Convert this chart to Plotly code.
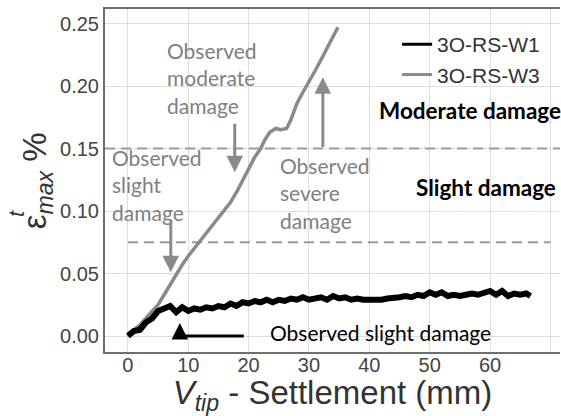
import plotly.graph_objects as go

# ---------------- data ----------------
w3_x = [0, 1, 2, 3, 4, 5, 6, 7, 8, 9, 10, 11, 12, 13, 14, 15, 16, 17, 18, 19, 20,
        21, 22, 22.7, 23.5, 24.5, 25.3, 26.3, 27, 28, 29, 30, 31, 32, 33, 34, 34.8]
w3_y = [0.002, 0.005, 0.009, 0.014, 0.019, 0.025, 0.033, 0.041, 0.050, 0.057, 0.064, 0.070,
        0.076, 0.082, 0.088, 0.094, 0.100, 0.107, 0.115, 0.124, 0.134, 0.143, 0.150,
        0.157, 0.163, 0.166, 0.165, 0.166, 0.173, 0.186, 0.195, 0.203, 0.212, 0.221, 0.230,
        0.239, 0.247]

w1_x = [0, 1, 2, 3, 4, 5, 6, 7, 8, 9, 10, 11, 12, 13, 14, 15, 16, 17, 18, 19, 20, 21, 22, 23,
        24, 25, 26, 27, 28, 29, 30, 31, 32, 33, 34, 35, 36, 37, 38, 39, 40, 41, 42, 43, 44, 45,
        46, 47, 48, 49, 50, 51, 52, 53, 54, 55, 56, 57, 58, 59, 60, 61, 62, 63, 64, 65, 66, 66.7]
w1_y = [0.000, 0.004, 0.005, 0.011, 0.014, 0.020, 0.022, 0.024, 0.019, 0.023, 0.020, 0.022,
        0.021, 0.023, 0.022, 0.024, 0.023, 0.026, 0.024, 0.027, 0.026, 0.028, 0.027, 0.029,
        0.027, 0.029, 0.028, 0.030, 0.029, 0.031, 0.029, 0.030, 0.031, 0.029, 0.032, 0.030,
        0.031, 0.029, 0.030, 0.029, 0.029, 0.028, 0.029, 0.030, 0.030, 0.031, 0.032, 0.031,
        0.033, 0.032, 0.035, 0.033, 0.035, 0.032, 0.033, 0.032, 0.033, 0.034, 0.033, 0.035,
        0.036, 0.033, 0.036, 0.032, 0.034, 0.033, 0.034, 0.032]

series_names = ["3O-RS-W1", "3O-RS-W3"]

threshold_levels = [0.075, 0.15]
threshold_x_start = [0, -3.8]
threshold_x_end = [70, 71.6]

x_ticks = [0, 10, 20, 30, 40, 50, 60, 70]
y_ticks = [0.00, 0.05, 0.10, 0.15, 0.20, 0.25]
y_tick_labels = ["0.00", "0.05", "0.10", "0.15", "0.20", "0.25"]

# ---------------- figure ----------------
GRAY = "#8a8a8a"
TXT_GRAY = "#808080"
ANN_FONT = "Lato, Carlito, Calibri, sans-serif"

fig = go.Figure()

for lvl, xs, xe in zip(threshold_levels, threshold_x_start, threshold_x_end):
    fig.add_trace(go.Scatter(x=[xs, xe], y=[lvl, lvl], mode="lines", showlegend=False,
                             hoverinfo="skip",
                             line=dict(color="#9a9a9a", width=2, dash="10px,6px")))

fig.add_trace(go.Scatter(x=w3_x, y=w3_y, mode="lines", name=series_names[1], showlegend=False,
                         line=dict(color=GRAY, width=3.5)))
fig.add_trace(go.Scatter(x=w1_x, y=w1_y, mode="lines", name=series_names[0], showlegend=False,
                         line=dict(color="black", width=6)))

# legend entries (thinner sample lines, as in the original legend)
fig.add_trace(go.Scatter(x=[None], y=[None], mode="lines", name=series_names[0], legendrank=1,
                         line=dict(color="black", width=3)))
fig.add_trace(go.Scatter(x=[None], y=[None], mode="lines", name=series_names[1], legendrank=2,
                         line=dict(color=GRAY, width=3)))

annotations = []

# grey text labels
annotations.append(dict(x=6.1, y=0.2064, xref="x", yref="y", xanchor="left", yanchor="middle",
                        align="left", showarrow=False, text="Observed<br>moderate<br>damage",
                        font=dict(family=ANN_FONT, size=21, color=TXT_GRAY)))
annotations.append(dict(x=-3.0, y=0.1208, xref="x", yref="y", xanchor="left", yanchor="middle",
                        align="left", showarrow=False, text="Observed<br>slight<br>damage",
                        font=dict(family=ANN_FONT, size=21, color=TXT_GRAY)))
annotations.append(dict(x=24.9, y=0.1144, xref="x", yref="y", xanchor="left", yanchor="middle",
                        align="left", showarrow=False, text="Observed<br>severe<br>damage",
                        font=dict(family=ANN_FONT, size=21, color=TXT_GRAY)))
# bold zone labels
annotations.append(dict(x=41.2, y=0.1808, xref="x", yref="y", xanchor="left", yanchor="middle",
                        showarrow=False, text="<b>Moderate damage</b>",
                        font=dict(family=ANN_FONT, size=22.5, color="black")))
annotations.append(dict(x=47.4, y=0.1192, xref="x", yref="y", xanchor="left", yanchor="middle",
                        showarrow=False, text="<b>Slight damage</b>",
                        font=dict(family=ANN_FONT, size=22.5, color="black")))
annotations.append(dict(x=23.2, y=0.003, xref="x", yref="y", xanchor="left", yanchor="middle",
                        showarrow=False, text="Observed slight damage",
                        font=dict(family=ANN_FONT, size=21, color="black")))

# arrows
arrow_common = dict(xref="x", yref="y", axref="x", ayref="y", showarrow=True, text="",
                    arrowhead=2, arrowsize=1.1, arrowwidth=3)
annotations.append(dict(x=17.7, y=0.131, ax=17.7, ay=0.171, arrowcolor=GRAY, **arrow_common))
annotations.append(dict(x=7.1, y=0.051, ax=7.1, ay=0.093, arrowcolor=GRAY, **arrow_common))
annotations.append(dict(x=32.3, y=0.207, ax=32.3, ay=0.150, arrowcolor=GRAY, **arrow_common))
annotations.append(dict(x=8.6, y=0.0104, ax=8.6, ay=0.0, arrowcolor="black", **arrow_common))

# y-axis title (epsilon with stacked t / max)
annotations.append(dict(x=-0.15, y=0.50, xref="paper", yref="paper", xanchor="center",
                        yanchor="middle", textangle=-90, showarrow=False,
                        text="ε<sub><i>max</i></sub> %",
                        font=dict(family="Liberation Sans, Arial", size=33, color="#333333")))
annotations.append(dict(x=-0.196, y=0.405, xref="paper", yref="paper", xanchor="center",
                        yanchor="middle", textangle=-90, showarrow=False,
                        text="<i>t</i>",
                        font=dict(family="Liberation Sans, Arial", size=22, color="#333333")))

shapes = [dict(type="line", xref="x", yref="y", x0=8.6, x1=19.2, y0=0.0, y1=0.0,
               line=dict(color="black", width=3))]

fig.update_layout(
    width=561, height=416,
    margin=dict(l=105, r=1, t=9, b=64),
    paper_bgcolor="white", plot_bgcolor="white",
    font=dict(family="Liberation Sans, Arial", size=20, color="#444444"),
    showlegend=True,
    legend=dict(x=0.642, y=0.956, xanchor="left", yanchor="top", bgcolor="rgba(0,0,0,0)",
                font=dict(family="Liberation Sans, Arial", size=21, color="#333333")),
    annotations=annotations,
    shapes=shapes,
)

fig.update_xaxes(range=[-3.8, 71.6], tickvals=x_ticks, showgrid=True, gridcolor="#dedede",
                 gridwidth=1, zeroline=False, showline=True, linecolor="#6e6e6e", linewidth=2,
                 mirror=True, ticks="", ticklen=0, ticklabelstandoff=-6,
                 tickfont=dict(size=20, color="#444444"),
                 title=dict(text="<i>V</i><sub><i>tip</i></sub> - Settlement (mm)",
                            font=dict(size=33, color="#333333"), standoff=0))
fig.update_yaxes(range=[-0.0128, 0.2616], tickvals=y_ticks, ticktext=y_tick_labels,
                 showgrid=True, gridcolor="#dedede", gridwidth=1, zeroline=False,
                 showline=True, linecolor="#6e6e6e", linewidth=2, ticks="", ticklen=0,
                 tickfont=dict(size=20, color="#444444"))

fig.write_html("out.html")
